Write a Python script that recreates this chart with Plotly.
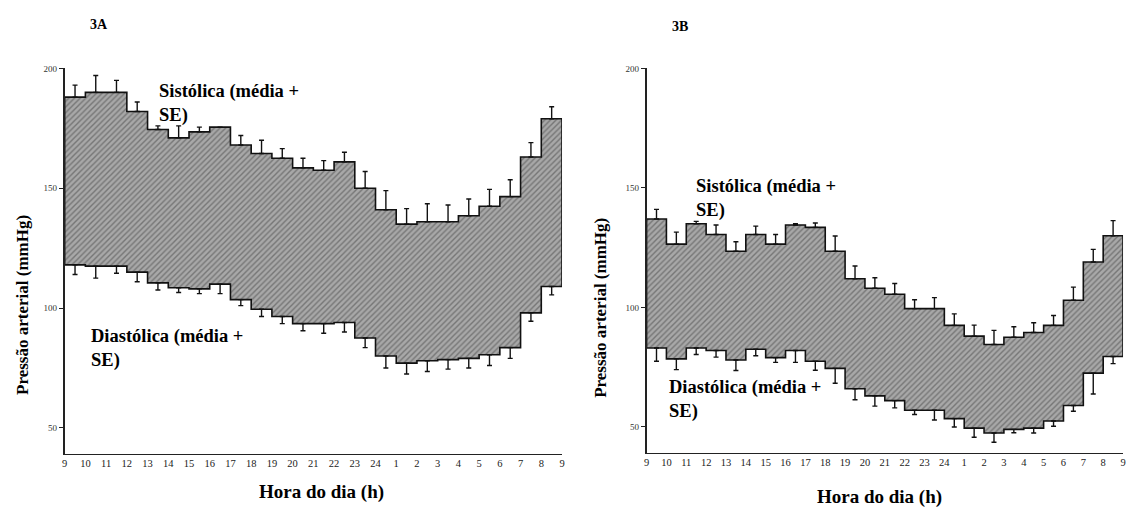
import plotly.graph_objects as go

W, H = 1131, 507

hours = list(range(25))
hour_labels = ["9", "10", "11", "12", "13", "14", "15", "16", "17", "18", "19", "20",
               "21", "22", "23", "24", "1", "2", "3", "4", "5", "6", "7", "8", "9"]
y_ticks = [50, 100, 150, 200]

# Panel 3A
sys_a = [188, 190, 190, 182, 174.5, 171, 173.5, 175.5, 168, 164.5, 162.5, 158.5,
         157.5, 161, 150, 141, 135, 136, 136, 138.5, 142.5, 146.5, 163, 179]
sys_a_se = [5, 7, 5, 4, 1.5, 5, 2, 0, 4, 5.5, 4, 4, 4, 4, 7, 8, 6.5, 7.5, 7, 7, 7, 7, 6, 5]
dia_a = [118, 117.5, 117.5, 115, 110.5, 108.5, 108, 110, 103.5, 99.5, 96.5, 93.5,
         93.5, 94, 87.5, 80, 77, 78, 78.5, 79, 80.5, 83.5, 98, 109]
dia_a_se = [4, 5, 3, 4, 3, 2, 2, 4, 2.5, 3, 3, 3, 4, 4, 4, 5, 4.5, 4.5, 4, 4, 4.5, 4.5, 3.5, 3.5]

# Panel 3B
sys_b = [137, 126.5, 135, 130.5, 123.5, 130.5, 126.5, 134.5, 133.5, 123.5, 112, 108,
         105.5, 99.5, 99.5, 92.5, 88, 84.5, 87.5, 89.5, 92.5, 103, 119, 130]
sys_b_se = [4, 5, 1, 4, 4, 3.5, 4, 0.5, 1.8, 6.4, 5.3, 4.4, 4.5, 3.7, 4.6, 4.8, 4.6, 5.9,
            4.4, 4.1, 4.1, 5.5, 5.3, 6.3]
dia_b = [83, 78.5, 83, 82, 78, 82.5, 79, 82, 77.5, 74.5, 66, 63, 61, 57, 57, 53.5,
         49.5, 47.5, 49, 49.5, 52.5, 59, 72.5, 79.5]
dia_b_se = [5.5, 4.5, 2.7, 2.8, 4.4, 2.7, 2, 5, 3.8, 6.2, 4.6, 4.3, 3, 1.8, 4.1, 3.5,
            3.8, 3.9, 1.4, 2, 2.2, 2.4, 8.7, 3]

FONT = "Liberation Serif"


def px(x):
    return x / W


def py(y):
    return 1 - y / H


def steps(vals):
    xs, ys = [], []
    for i, v in enumerate(vals):
        xs += [i, i + 1]
        ys += [v, v]
    return xs, ys


fig = go.Figure()


def add_panel(sysv, sys_se, diav, dia_se, xa, ya):
    sx, sy = steps(sysv)
    dx, dy = steps(diav)
    poly_x = sx + dx[::-1] + [sx[0]]
    poly_y = sy + dy[::-1] + [sy[0]]
    fig.add_trace(go.Scatter(
        x=poly_x, y=poly_y, mode="lines", fill="toself",
        line=dict(color="#111111", width=1.6),
        fillcolor="#a0a0a0",
        fillpattern=dict(shape="/", bgcolor="#a8a8a8", fgcolor="#444444",
                         size=4, solidity=0.35),
        xaxis=xa, yaxis=ya, hoverinfo="skip", showlegend=False))
    centers = [i + 0.5 for i in range(len(sysv))]
    fig.add_trace(go.Scatter(
        x=centers, y=sysv, mode="markers",
        marker=dict(color="rgba(0,0,0,0)", size=2),
        error_y=dict(type="data", symmetric=False, array=sys_se,
                     arrayminus=[0] * len(sysv), color="#111111",
                     thickness=1.4, width=2.5),
        xaxis=xa, yaxis=ya, showlegend=False, hoverinfo="skip"))
    fig.add_trace(go.Scatter(
        x=centers, y=diav, mode="markers",
        marker=dict(color="rgba(0,0,0,0)", size=2),
        error_y=dict(type="data", symmetric=False, array=[0] * len(diav),
                     arrayminus=dia_se, color="#111111",
                     thickness=1.4, width=2.5),
        xaxis=xa, yaxis=ya, showlegend=False, hoverinfo="skip"))


add_panel(sys_a, sys_a_se, dia_a, dia_a_se, "x", "y")
add_panel(sys_b, sys_b_se, dia_b, dia_b_se, "x2", "y2")

xcommon = dict(range=[0, 24], tickvals=hours, ticktext=hour_labels,
               showline=True, linecolor="#222222", linewidth=1.2, ticks="",
               showgrid=False, zeroline=False,
               tickfont=dict(family=FONT, size=10.5, color="#222222"))
ycommon = dict(range=[39.3, 200], tickvals=y_ticks, ticktext=[str(t) for t in y_ticks],
               showline=True, linecolor="#222222", linewidth=1.5, ticks="outside",
               ticklen=4, tickwidth=1, tickcolor="#222222",
               showgrid=False, zeroline=False,
               tickfont=dict(family=FONT, size=9, color="#333333"))

fig.update_layout(
    width=W, height=H,
    margin=dict(l=0, r=0, t=0, b=0),
    paper_bgcolor="white", plot_bgcolor="white",
    font=dict(family=FONT, color="black"),
    xaxis=dict(domain=[px(62), px(562)], anchor="y", **xcommon),
    yaxis=dict(domain=[py(453), py(64)], anchor="x", **ycommon),
    xaxis2=dict(domain=[px(647), px(1126)], anchor="y2", **xcommon),
    yaxis2=dict(domain=[py(452), py(64)], anchor="x2", **ycommon),
)

ann = []


def text(x, y, s, size, xanchor="center", angle=0, align="left"):
    ann.append(dict(x=px(x), y=py(y), xref="paper", yref="paper", text=s,
                    showarrow=False, xanchor=xanchor, yanchor="middle",
                    textangle=angle, align=align,
                    font=dict(family=FONT, size=size, color="black")))


text(97, 20, "<b>3A</b>", 14)
text(681, 22, "<b>3B</b>", 14)
text(155, 99, "<b>Sistólica (média +<br>SE)</b>", 18.5, xanchor="left")
text(86, 347, "<b>Diastólica (média +<br>SE)</b>", 18.5, xanchor="left")
text(695, 195, "<b>Sistólica (média +<br>SE)</b>", 18.5, xanchor="left")
text(668, 398, "<b>Diastólica (média +<br>SE)</b>", 18.5, xanchor="left")
text(19, 303, "<b>Pressão arterial (mmHg)</b>", 17, angle=-90)
text(601, 306, "<b>Pressão arterial (mmHg)</b>", 17, angle=-90)
text(320, 492, "<b>Hora do dia (h)</b>", 19)
text(881, 497, "<b>Hora do dia (h)</b>", 19)

fig.update_layout(annotations=ann)

fig.write_html("out.html",
               config={"displayModeBar": False},
               post_script="document.body.style.margin='0';"
                           "document.body.style.overflow='hidden';")
